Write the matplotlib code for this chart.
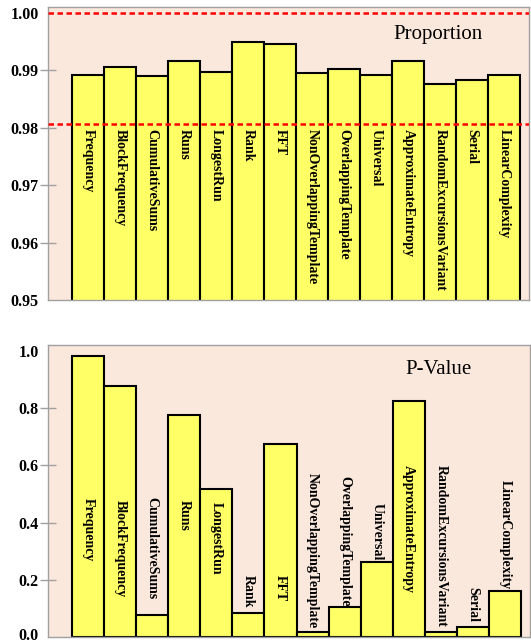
import matplotlib
matplotlib.use("Agg")
import matplotlib.pyplot as plt
import matplotlib.transforms as mtransforms
import numpy as np

# NIST SP800-22 test names
tests = ["Frequency", "BlockFrequency", "CumulativeSums", "Runs", "LongestRun",
         "Rank", "FFT", "NonOverlappingTemplate", "OverlappingTemplate",
         "Universal", "ApproximateEntropy", "RandomExcursionsVariant",
         "Serial", "LinearComplexity"]

# proportion of sequences passing each test
proportion = [0.9891, 0.9906, 0.9890, 0.9916, 0.9897, 0.9949, 0.9945,
              0.9895, 0.9901, 0.9891, 0.9916, 0.9876, 0.9883, 0.9891]

# uniformity p-values
p_value = [0.985, 0.879, 0.075, 0.777, 0.516, 0.082, 0.674,
           0.015, 0.103, 0.261, 0.827, 0.015, 0.033, 0.160]

# acceptable proportion range
prop_low = 0.9806
prop_high = 1.0

prop_ticks = [0.95, 0.96, 0.97, 0.98, 0.99, 1.00]
pv_ticks = [0.0, 0.2, 0.4, 0.6, 0.8, 1.0]

# where the rotated names start in the p-value panel
pv_label_top = [0.486, 0.479, 0.489, 0.479, 0.472, 0.216, 0.216,
                0.574, 0.563, 0.468, 0.602, 0.602, 0.174, 0.549]

plt.rcParams['font.family'] = ['Liberation Serif', 'DejaVu Serif']

BG = '#fbe8dd'
BAR = '#ffff66'
SPINE = '#a0a0a0'

fig = plt.figure(figsize=(5.31, 6.43), dpi=100)
ax1 = fig.add_axes([48 / 531, 1 - 300 / 643, 481 / 531, 293 / 643])
ax2 = fig.add_axes([48 / 531, 1 - 636.7 / 643, 482 / 531, 291.7 / 643])

x = np.arange(len(tests))


def style_axes(ax, ticks, fmt):
    ax.set_facecolor(BG)
    for s in ax.spines.values():
        s.set_color(SPINE)
        s.set_linewidth(1.0)
    ax.set_xticks([])
    ax.set_yticks(ticks)
    ax.set_yticklabels([fmt % t for t in ticks], fontsize=11.5, fontweight='bold')
    ax.tick_params(axis='y', direction='inout', length=11, width=1.0,
                   color=SPINE, pad=1)
    ticklines = ax.yaxis.get_ticklines()
    # no marks on the end values
    ticklines[0].set_visible(False)
    ticklines[-2].set_visible(False)
    ax.set_xlim(-1.25, 13.78)


# --- proportion panel ---
ax1.bar(x, proportion, width=1.0, color=BAR, edgecolor='black', linewidth=1.5, zorder=2)
ax1.set_ylim(0.95, 1.00096)
style_axes(ax1, prop_ticks, '%.2f')
for yl in (prop_low, prop_high):
    ax1.axhline(yl, color='#ff0000', linestyle=(0, (2.2, 1.4)), linewidth=1.8, zorder=3)
for xi, name in zip(x, tests):
    ax1.text(xi, 0.9798, name, rotation=270, ha='center', va='top',
             fontsize=10, fontweight='bold', zorder=4)
ax1.text(0.81, 0.905, "Proportion", transform=ax1.transAxes,
         ha='center', va='center', fontsize=15)

# --- p-value panel ---
ax2.bar(x, p_value, width=1.0, color=BAR, edgecolor='black', linewidth=1.5, zorder=2)
ax2.set_ylim(0, 1.022)
style_axes(ax2, pv_ticks, '%.1f')
# lift the bottom "0.0" a little so it stays inside the figure
lbl0 = ax2.get_yticklabels()[0]
lbl0.set_transform(lbl0.get_transform() +
                   mtransforms.ScaledTranslation(0, 3 / 100, fig.dpi_scale_trans))
for xi, name, yt in zip(x, tests, pv_label_top):
    ax2.text(xi, yt, name, rotation=270, ha='center', va='top',
             fontsize=10, fontweight='bold', zorder=4)
ax2.text(0.81, 0.915, "P-Value", transform=ax2.transAxes,
         ha='center', va='center', fontsize=15)

fig.savefig("out.png", dpi=100)
